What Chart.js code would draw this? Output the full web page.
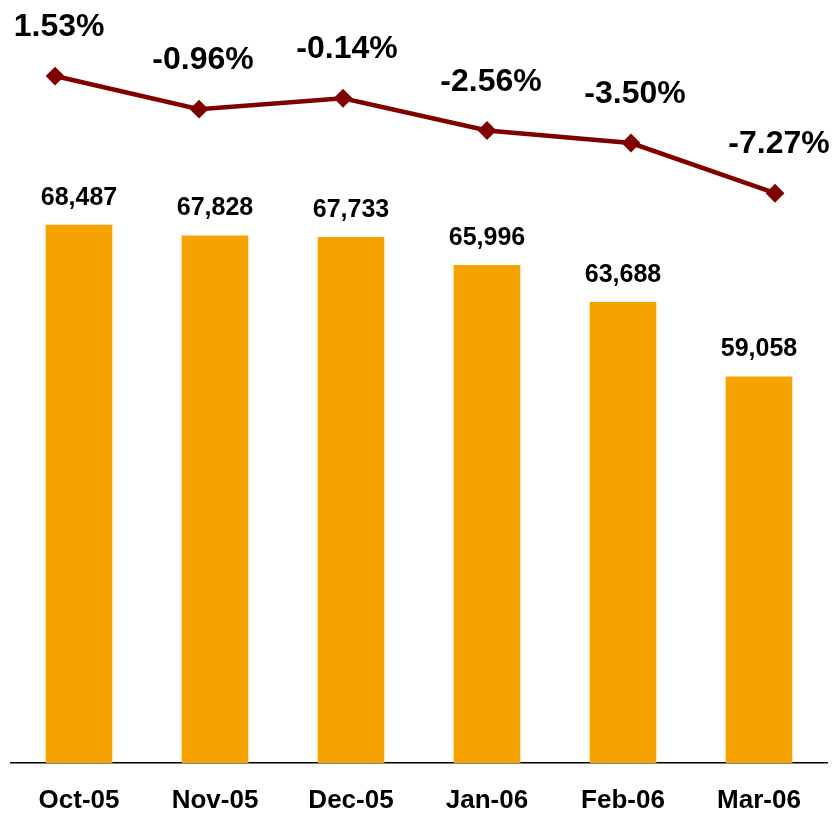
<!DOCTYPE html>
<html>
<head>
<meta charset="utf-8">
<script src="https://cdn.jsdelivr.net/npm/chart.js@4.4.1/dist/chart.umd.min.js"></script>
<style>
  html, body { margin: 0; padding: 0; background: #fff; }
  #wrap { width: 834px; height: 813px; position: relative; }
</style>
</head>
<body>
<div id="wrap"><canvas id="salesChart"></canvas></div>
<script>
const months = ['Oct-05', 'Nov-05', 'Dec-05', 'Jan-06', 'Feb-06', 'Mar-06'];
const volumes = [68487, 67828, 67733, 65996, 63688, 59058];
const pctChange = [1.53, -0.96, -0.14, -2.56, -3.50, -7.27];

const FONT = '"Liberation Sans", Arial, sans-serif';

// draws the value labels above bars and line points
const valueLabels = {
  id: 'valueLabels',
  afterDatasetsDraw(chart) {
    const ctx = chart.ctx;
    ctx.save();
    ctx.fillStyle = '#000';
    ctx.textAlign = 'center';
    ctx.textBaseline = 'alphabetic';

    const bars = chart.getDatasetMeta(0).data;
    ctx.font = 'bold 25px ' + FONT;
    bars.forEach((bar, i) => {
      ctx.fillText(volumes[i].toLocaleString('en-US'), bar.x, bar.y - 20);
    });

    const pts = chart.getDatasetMeta(1).data;
    ctx.font = 'bold 32px ' + FONT;
    pts.forEach((pt, i) => {
      ctx.fillText(pctChange[i].toFixed(2) + '%', pt.x + 4, pt.y - 40);
    });
    ctx.restore();
  }
};

const ctx = document.getElementById('salesChart').getContext('2d');

new Chart(ctx, {
  data: {
    labels: months,
    datasets: [
      {
        type: 'bar',
        data: volumes,
        backgroundColor: '#F5A300',
        barPercentage: 0.49,
        categoryPercentage: 1,
        grouped: false,
        xAxisID: 'x',
        yAxisID: 'y',
        order: 2,
      },
      {
        type: 'line',
        data: pctChange.map((v, i) => ({ x: i, y: v })),
        borderColor: '#800000',
        backgroundColor: '#800000',
        borderWidth: 4.5,
        pointStyle: 'rectRot',
        pointRadius: 8,
        pointBorderWidth: 2,
        tension: 0,
        xAxisID: 'x2',
        yAxisID: 'y2',
        order: 1,
      },
    ],
  },
  options: {
    responsive: true,
    maintainAspectRatio: false,
    animation: false,
    layout: { autoPadding: false, padding: { left: 11, right: 7, top: 0, bottom: 0 } },
    plugins: {
      legend: { display: false },
      tooltip: { enabled: false },
    },
    scales: {
      x: {
        grid: { display: false, drawTicks: false },
        border: { display: true, color: '#000', width: 1.5 },
        ticks: {
          color: '#000',
          padding: 22,
          font: { family: FONT, size: 26, weight: 'bold' },
          maxRotation: 0,
        },
        afterFit: (scale) => { scale.height = 50; },
      },
      x2: {
        type: 'linear',
        display: false,
        min: -0.306,
        max: 5.361,
      },
      y: {
        display: false,
        min: 35000,
        max: 82480,
      },
      y2: {
        display: false,
        min: -50.05,
        max: 7.24,
      },
    },
  },
  plugins: [valueLabels],
});
</script>
</body>
</html>
